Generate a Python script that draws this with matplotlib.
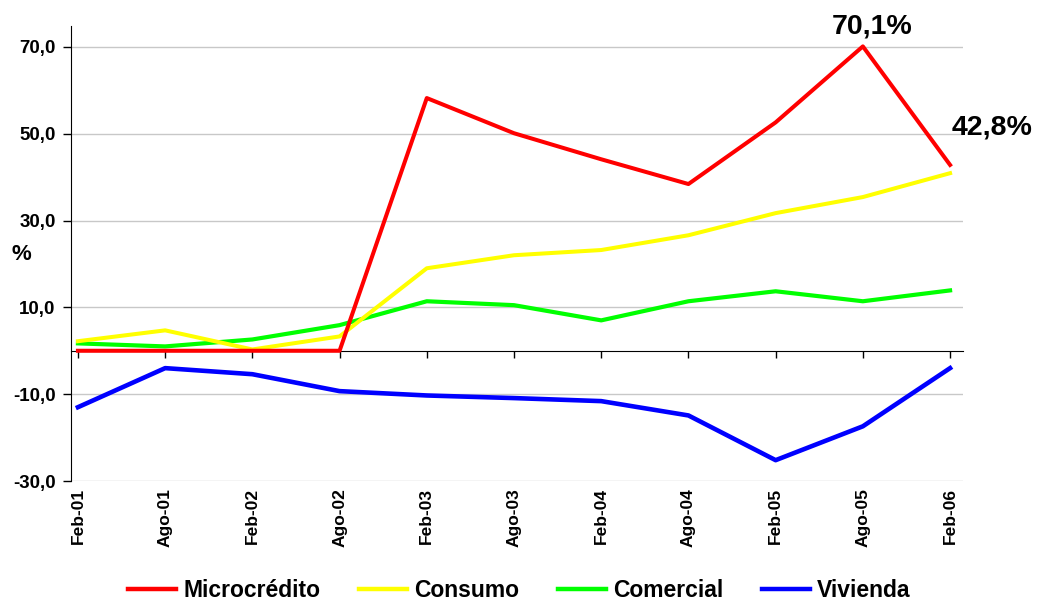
import matplotlib
matplotlib.use('Agg')
import matplotlib.pyplot as plt
import matplotlib.transforms as mtransforms

plt.rcParams['font.family'] = ['Liberation Sans', 'DejaVu Sans']

# Datos (%)
periodos = ['Feb-01', 'Ago-01', 'Feb-02', 'Ago-02', 'Feb-03', 'Ago-03',
            'Feb-04', 'Ago-04', 'Feb-05', 'Ago-05', 'Feb-06']
microcredito = [0.0, 0.0, 0.0, 0.0, 58.2, 50.1, 44.1, 38.4, 52.6, 70.1, 42.8]
consumo = [2.2, 4.7, 0.3, 3.3, 19.0, 22.0, 23.2, 26.6, 31.7, 35.4, 40.9]
comercial = [1.7, 1.0, 2.6, 5.9, 11.4, 10.5, 7.0, 11.4, 13.7, 11.4, 13.9]
vivienda = [-13.0, -4.0, -5.4, -9.3, -10.3, -10.9, -11.6, -14.9, -25.2, -17.4, -4.0]
y_ticks = [-30, -10, 10, 30, 50, 70]

fig = plt.figure(figsize=(10.39, 6.03), dpi=100)
ax = fig.add_axes([0.0683, 0.2023, 0.8587, 0.7546])

x = list(range(len(periodos)))
ax.plot(x, microcredito, color='#ff0000', lw=2.9, label='Microcrédito', zorder=5)
ax.plot(x, consumo, color='#ffff00', lw=2.9, label='Consumo', zorder=4)
ax.plot(x, comercial, color='#00ff00', lw=3.0, label='Comercial', zorder=3)
ax.plot(x, vivienda, color='#0000ff', lw=3.3, label='Vivienda', zorder=3)

ax.set_xlim(-0.08, 10.15)
ax.set_ylim(-30, 74.8)

# Rejilla y ejes
ax.set_yticks(y_ticks)
ax.set_yticklabels([f'{v:.1f}'.replace('.', ',') for v in y_ticks],
                   fontsize=13.5, fontweight='bold')
ax.grid(axis='y', color='#c8c8c8', lw=1)
ax.set_axisbelow(True)
ax.spines['top'].set_visible(False)
ax.spines['right'].set_visible(False)
ax.spines['left'].set_color('black')
ax.spines['bottom'].set_position(('data', 0))
ax.spines['bottom'].set_color('black')
ax.spines['bottom'].set_zorder(2)
ax.tick_params(axis='y', length=6, width=1, color='black', pad=5)
ax.set_xticks(x)
ax.tick_params(axis='x', direction='out', length=5, width=1, labelbottom=False)

# Etiquetas del eje x abajo
trans = mtransforms.blended_transform_factory(ax.transData, ax.transAxes)
for xi, lab in zip(x, periodos):
    ax.text(xi, -0.016, lab, transform=trans, rotation=90, ha='center', va='top',
            fontsize=12.5, fontweight='bold')

fig.text(0.021, 0.578, '%', fontsize=16, fontweight='bold', ha='center', va='center')

# Anotaciones
ax.annotate('70,1%', (9, 70.1), xytext=(7, 14.5), textcoords='offset points',
            ha='center', va='center', fontsize=20.5, fontweight='bold')
ax.annotate('42,8%', (10, 42.8), xytext=(30, 27), textcoords='offset points',
            ha='center', va='center', fontsize=20.5, fontweight='bold')

leg = fig.legend(loc='center', bbox_to_anchor=(0.5, 0.02), ncol=4, frameon=False,
                 prop={'weight': 'bold', 'size': 16.5},
                 handlelength=2.1, columnspacing=1.7, handletextpad=0.3)
for h in leg.get_lines():
    h.set_linewidth(3.2)

fig.savefig('out.png', dpi=100)
